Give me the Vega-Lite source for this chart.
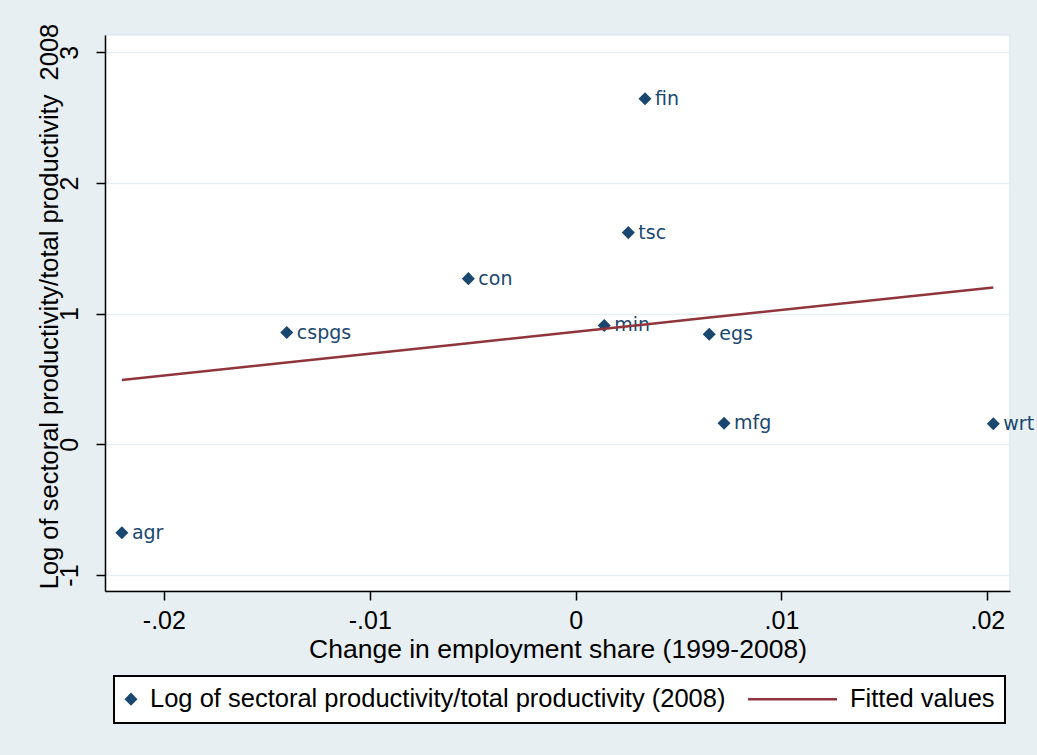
{
  "$schema": "https://vega.github.io/schema/vega-lite/v6.json",
  "width": 905,
  "height": 556,
  "autosize": {"type": "none"},
  "padding": {"left": 105, "top": 35, "right": 27, "bottom": 164},
  "background": "#e8eff2",
  "config": {
    "view": {"fill": "white", "stroke": "#e1e9ed", "strokeWidth": 1.5},
    "font": "Liberation Sans"
  },
  "data": {
    "values": [
      {"sector": "agr", "x": -0.02204, "y": -0.676, "fit": 0.492},
      {"sector": "cspgs", "x": -0.01403, "y": 0.855, "fit": 0.626},
      {"sector": "con", "x": -0.00521, "y": 1.268, "fit": 0.774},
      {"sector": "min", "x": 0.00139, "y": 0.910, "fit": 0.884},
      {"sector": "tsc", "x": 0.00256, "y": 1.620, "fit": 0.904},
      {"sector": "fin", "x": 0.00337, "y": 2.645, "fit": 0.917},
      {"sector": "egs", "x": 0.00649, "y": 0.842, "fit": 0.970},
      {"sector": "mfg", "x": 0.00721, "y": 0.161, "fit": 0.982},
      {"sector": "wrt", "x": 0.02029, "y": 0.158, "fit": 1.201}
    ]
  },
  "encoding": {
    "x": {
      "field": "x", "type": "quantitative",
      "scale": {"domain": [-0.02286, 0.0211], "nice": false, "zero": false},
      "axis": {
        "title": "Change in employment share (1999-2008)",
        "values": [-0.02, -0.01, 0, 0.01, 0.02],
        "labelExpr": "datum.value == 0 ? '0' : (datum.value < 0 ? '-' : '') + replace(format(abs(datum.value), '.2f'), '0.', '.')",
        "labelFontSize": 25, "labelColor": "black", "labelBaseline": "alphabetic", "labelPadding": 28,
        "labelFlush": false, "labelOverlap": false,
        "tickSize": 9, "tickColor": "black", "tickWidth": 1.5,
        "domainColor": "black", "domainWidth": 1.5, "grid": false,
        "titleFontSize": 26.5, "titleFontWeight": "normal", "titleColor": "black",
        "titleBaseline": "alphabetic", "titleY": 66
      }
    }
  },
  "layer": [
    {
      "mark": {"type": "point", "shape": "diamond", "filled": true, "opacity": 1, "size": 170},
      "encoding": {
        "y": {
          "field": "y", "type": "quantitative",
          "scale": {"domain": [-1.122, 3.132], "nice": false, "zero": false},
          "axis": {
            "title": "Log of sectoral productivity/total productivity \u00a02008",
            "values": [-1, 0, 1, 2, 3],
            "labelExpr": "'' + datum.value",
            "labelAngle": 270, "labelAlign": "center", "labelBaseline": "alphabetic", "labelPadding": 19,
            "labelFontSize": 25, "labelColor": "black", "labelFlush": false, "labelOverlap": false,
            "tickSize": 9, "tickColor": "black", "tickWidth": 1.5,
            "domainColor": "black", "domainWidth": 1.5,
            "grid": true, "gridColor": "#e6eef1", "gridWidth": 1.5,
            "titleFontSize": 25.5, "titleFontWeight": "normal", "titleColor": "black",
            "titleAngle": 270, "titleBaseline": "alphabetic", "titleAlign": "center",
            "titleX": -48, "titleY": 271
          }
        },
        "color": {
          "datum": "Log of sectoral productivity/total productivity (2008)",
          "scale": {
            "domain": ["Log of sectoral productivity/total productivity (2008)", "Fitted values"],
            "range": ["#1a476f", "#90353b"]
          },
          "legend": {
            "title": null,
            "orient": "none",
            "direction": "horizontal",
            "legendX": 9,
            "legendY": 641,
            "fillColor": "white",
            "strokeColor": "black",
            "padding": 10,
            "labelFont": "Liberation Sans",
            "labelFontSize": 25.5,
            "labelColor": "black",
            "labelLimit": 0,
            "labelOffset": 8,
            "columnPadding": 17,
            "symbolSize": 170,
            "symbolType": "diamond",
            "encode": {
              "legend": {"update": {"strokeWidth": {"value": 2}}},
              "symbols": {
                "update": {
                  "shape": {"signal": "datum.value == 'Fitted values' ? 'stroke' : 'diamond'"},
                  "size": {"signal": "datum.value == 'Fitted values' ? 7921 : 170"},
                  "x": {"signal": "datum.value == 'Fitted values' ? 44.5 : 7"},
                  "fill": {"scale": "color", "field": "value"},
                  "stroke": {"scale": "color", "field": "value"},
                  "strokeWidth": {"signal": "datum.value == 'Fitted values' ? 2.5 : 0"},
                  "opacity": {"value": 1}
                }
              },
              "labels": {
                "update": {
                  "x": {"signal": "datum.value == 'Fitted values' ? 102 : 26"}
                }
              }
            }
          }
        }
      }
    },
    {
      "mark": {"type": "text", "align": "left", "baseline": "middle", "dx": 10, "font": "DejaVu Sans", "fontSize": 19, "color": "#1a476f"},
      "encoding": {
        "y": {"field": "y", "type": "quantitative"},
        "text": {"field": "sector"}
      }
    },
    {
      "mark": {"type": "line", "strokeWidth": 2.5},
      "encoding": {
        "y": {"field": "fit", "type": "quantitative", "axis": {"title": "Log of sectoral productivity/total productivity \u00a02008"}},
        "color": {
          "datum": "Fitted values",
          "legend": {
            "title": null,
            "orient": "none",
            "direction": "horizontal",
            "legendX": 9,
            "legendY": 641,
            "fillColor": "white",
            "strokeColor": "black",
            "padding": 10,
            "labelFont": "Liberation Sans",
            "labelFontSize": 25.5,
            "labelColor": "black",
            "labelLimit": 0,
            "labelOffset": 8,
            "columnPadding": 17,
            "symbolSize": 170,
            "symbolType": "diamond",
            "encode": {
              "legend": {"update": {"strokeWidth": {"value": 2}}},
              "symbols": {
                "update": {
                  "shape": {"signal": "datum.value == 'Fitted values' ? 'stroke' : 'diamond'"},
                  "size": {"signal": "datum.value == 'Fitted values' ? 7921 : 170"},
                  "x": {"signal": "datum.value == 'Fitted values' ? 44.5 : 7"},
                  "fill": {"scale": "color", "field": "value"},
                  "stroke": {"scale": "color", "field": "value"},
                  "strokeWidth": {"signal": "datum.value == 'Fitted values' ? 2.5 : 0"},
                  "opacity": {"value": 1}
                }
              },
              "labels": {
                "update": {
                  "x": {"signal": "datum.value == 'Fitted values' ? 102 : 26"}
                }
              }
            }
          }
        }
      }
    }
  ]
}
